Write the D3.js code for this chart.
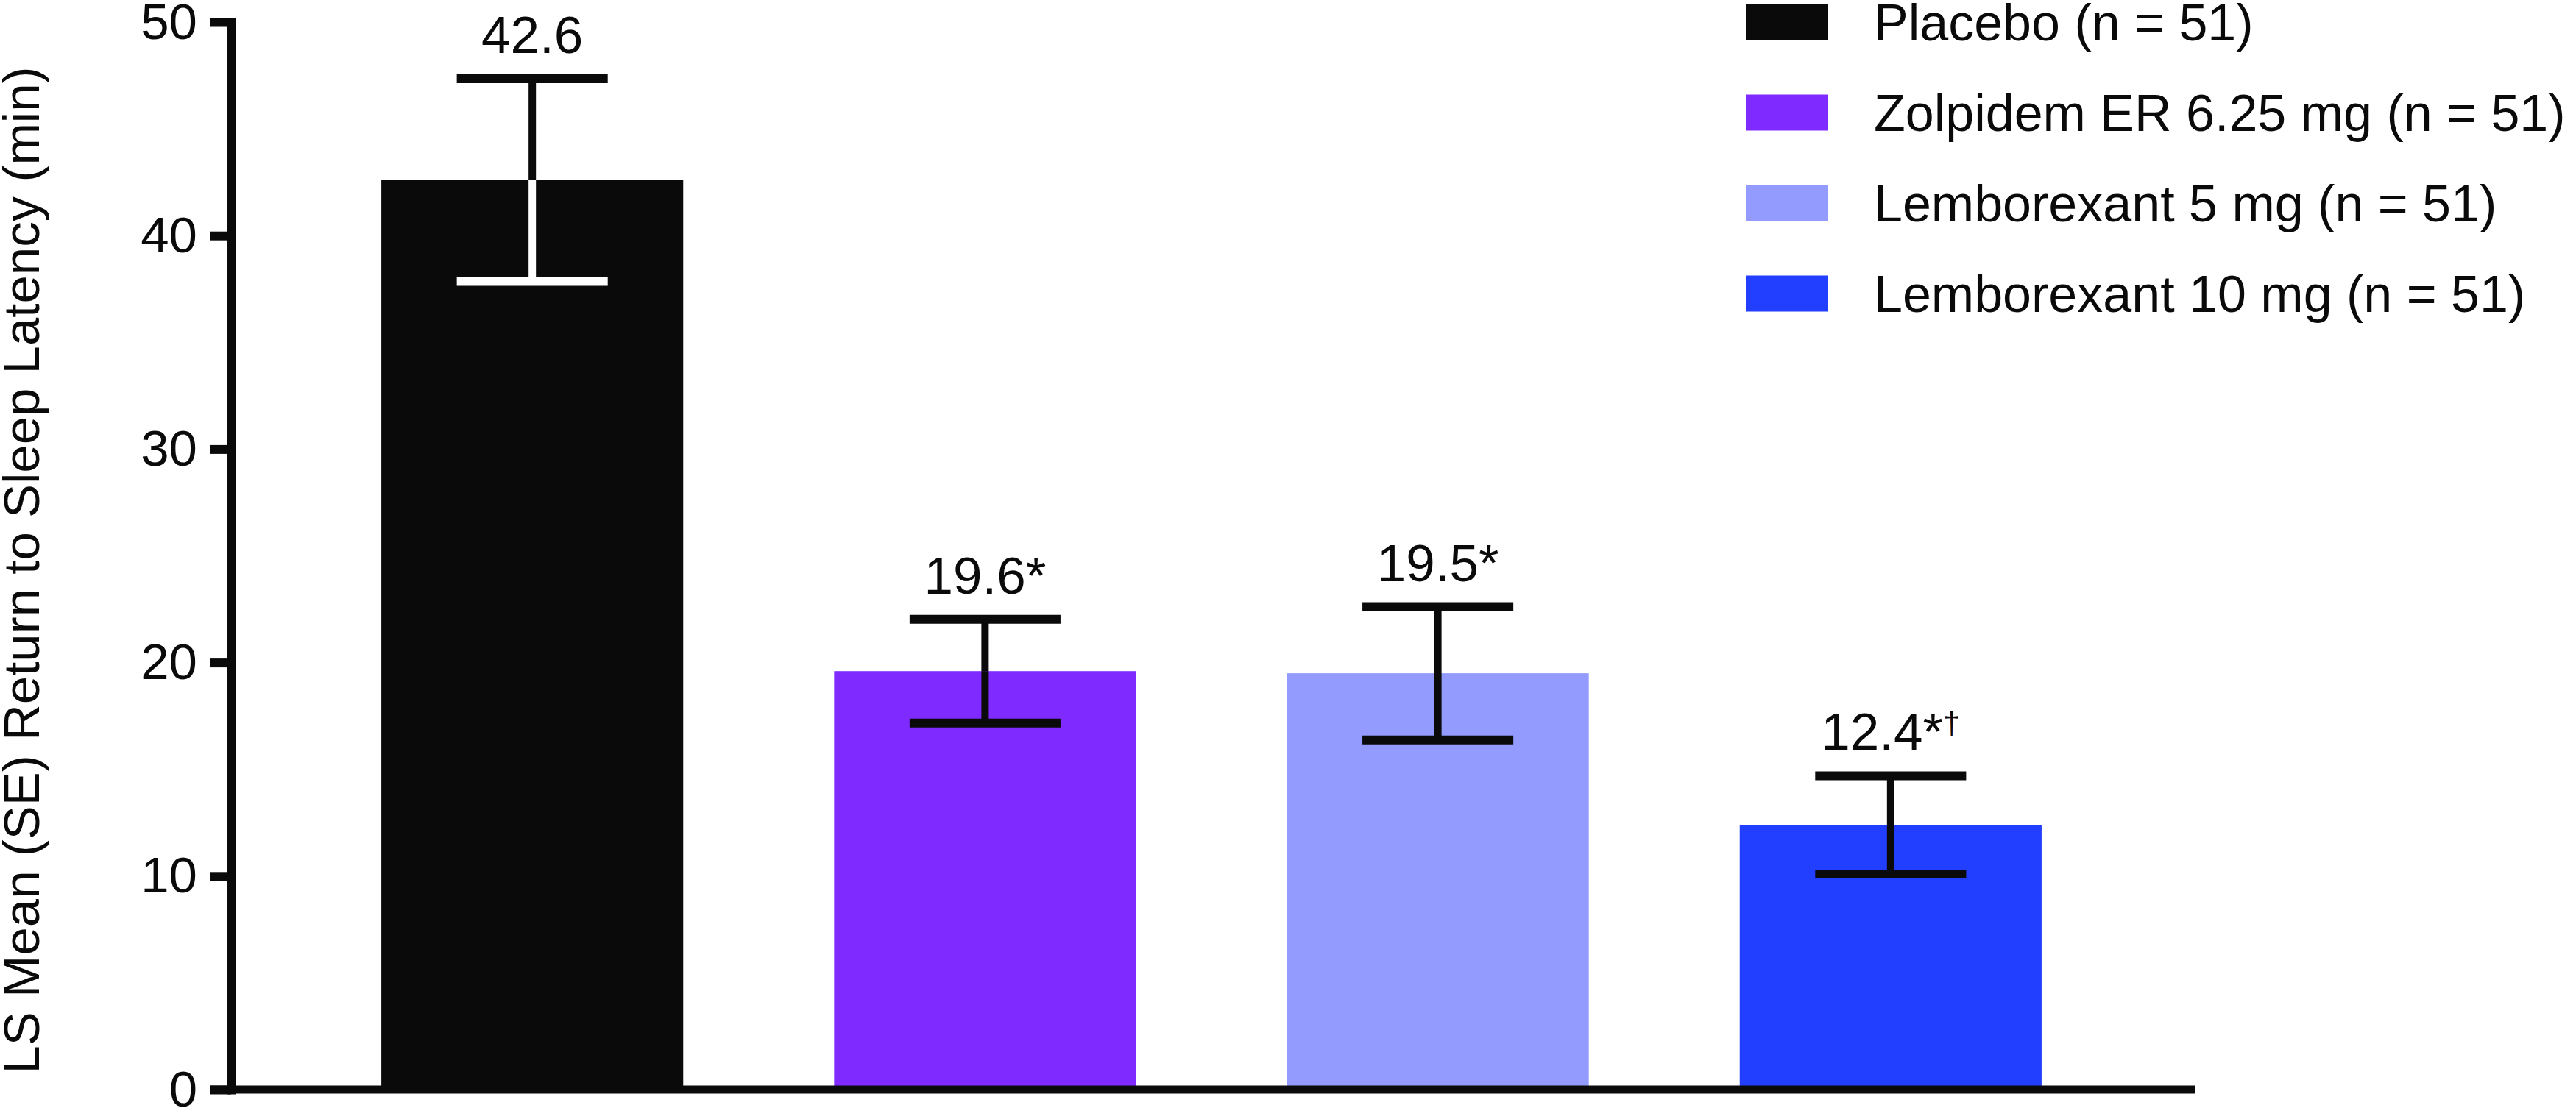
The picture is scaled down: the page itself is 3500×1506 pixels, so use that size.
<!DOCTYPE html>
<html>
<head>
<meta charset="utf-8">
<script src="https://cdn.jsdelivr.net/npm/d3@7/dist/d3.min.js"></script>
<style>
  body { margin: 0; background: #fff; }
  text { font-family: "Liberation Sans", Arial, Helvetica, sans-serif; fill: #0a0a0a; }
</style>
</head>
<body>
<div id="chart"></div>
<script>
// data
var groups = ["Placebo", "Zolpidem ER 6.25 mg", "Lemborexant 5 mg", "Lemborexant 10 mg"]
var legendLabels = ["Placebo (n = 51)", "Zolpidem ER 6.25 mg (n = 51)", "Lemborexant 5 mg (n = 51)", "Lemborexant 10 mg (n = 51)"]
var means = [42.6, 19.6, 19.5, 12.4]
var se = [4.75, 2.43, 3.12, 2.3]
var stars = ["", "*", "*", "*"]
var daggers = ["", "", "", "†"]
var yTicks = [0, 10, 20, 30, 40, 50]
var colors = ["#0a0a0a", "#7f2bff", "#939cfe", "#223eff"]
var innerBarColors = ["#ffffff", "#0a0a0a", "#0a0a0a", "#0a0a0a"]

var width = 3500, height = 1506
var fontSize = 70

var svg = d3.select("#chart")
    .append("svg")
    .attr("width", width)
    .attr("height", height)
    .attr("display", "block")

var xScale = d3.scaleBand()
    .domain(groups)
    .range([312, 2980])
    .paddingInner(1/3)
    .paddingOuter(0.335)

var yScale = d3.scaleLinear()
    .domain([0, 50])
    .range([1481, 30])

// bars
svg.selectAll("rect.bar")
    .data(groups)
    .enter()
    .append("rect")
    .attr("class", "bar")
    .attr("x", function(g) { return xScale(g) })
    .attr("y", function(g, i) { return yScale(means[i]) })
    .attr("width", xScale.bandwidth())
    .attr("height", function(g, i) { return yScale(0) - yScale(means[i]) })
    .attr("fill", function(g, i) { return colors[i] })

// error bars (lower half drawn white inside the dark placebo bar)
var capW = xScale.bandwidth() / 2
var err = svg.selectAll("g.err")
    .data(groups)
    .enter()
    .append("g")
    .attr("class", "err")
    .attr("transform", function(g) { return "translate(" + (xScale(g) + xScale.bandwidth() / 2) + ",0)" })

err.append("line")
    .attr("x1", 0).attr("x2", 0)
    .attr("y1", function(g, i) { return yScale(means[i]) })
    .attr("y2", function(g, i) { return yScale(means[i] + se[i]) })
    .attr("stroke", "#0a0a0a")
    .attr("stroke-width", 10)
err.append("line")
    .attr("x1", 0).attr("x2", 0)
    .attr("y1", function(g, i) { return yScale(means[i] - se[i]) })
    .attr("y2", function(g, i) { return yScale(means[i]) })
    .attr("stroke", function(g, i) { return innerBarColors[i] })
    .attr("stroke-width", 10)
err.append("line")
    .attr("x1", -capW / 2).attr("x2", capW / 2)
    .attr("y1", function(g, i) { return yScale(means[i] + se[i]) })
    .attr("y2", function(g, i) { return yScale(means[i] + se[i]) })
    .attr("stroke", "#0a0a0a")
    .attr("stroke-width", 12)
err.append("line")
    .attr("x1", -capW / 2).attr("x2", capW / 2)
    .attr("y1", function(g, i) { return yScale(means[i] - se[i]) })
    .attr("y2", function(g, i) { return yScale(means[i] - se[i]) })
    .attr("stroke", function(g, i) { return innerBarColors[i] })
    .attr("stroke-width", 12)

// value labels
var lab = err.append("text")
    .attr("y", function(g, i) { return yScale(means[i] + se[i]) - 35 })
    .attr("text-anchor", "middle")
    .style("font-size", "71px")
lab.append("tspan")
    .text(function(g, i) { return means[i].toFixed(1) + stars[i] })
lab.append("tspan")
    .style("font-size", "42px")
    .attr("dy", -22)
    .text(function(g, i) { return daggers[i] })

// y axis
var yAxis = d3.axisLeft(yScale)
    .tickValues(yTicks)
    .tickSize(28)
    .tickSizeOuter(0)
    .tickPadding(18)
var yG = svg.append("g")
    .attr("transform", "translate(314,0)")
    .call(yAxis)
yG.select(".domain")
    .attr("stroke", "#0a0a0a")
    .attr("stroke-width", 12)
    .attr("stroke-linecap", "square")
yG.selectAll(".tick line")
    .attr("stroke", "#0a0a0a")
    .attr("stroke-width", 12)
yG.selectAll(".tick text")
    .attr("fill", "#0a0a0a")
    .style("font-size", "69px")
    .style("font-family", "'Liberation Sans', Arial, Helvetica, sans-serif")

// x axis baseline
svg.append("line")
    .attr("x1", 285)
    .attr("x2", 2983)
    .attr("y1", yScale(0))
    .attr("y2", yScale(0))
    .attr("stroke", "#0a0a0a")
    .attr("stroke-width", 11)

// y axis title
svg.append("text")
    .attr("transform", "translate(53,775) rotate(-90)")
    .attr("text-anchor", "middle")
    .style("font-size", "69px")
    .text("LS Mean (SE) Return to Sleep Latency (min)")

// legend
var legend = svg.selectAll("g.legend")
    .data(legendLabels)
    .enter()
    .append("g")
    .attr("class", "legend")
    .attr("transform", function(d, i) { return "translate(2372," + (30 + i * 123) + ")" })
legend.append("rect")
    .attr("x", 0)
    .attr("y", -24.5)
    .attr("width", 112)
    .attr("height", 49)
    .attr("fill", function(d, i) { return colors[i] })
legend.append("text")
    .attr("x", 174)
    .attr("y", 25)
    .style("font-size", fontSize + "px")
    .text(function(d) { return d })
</script>
</body>
</html>
